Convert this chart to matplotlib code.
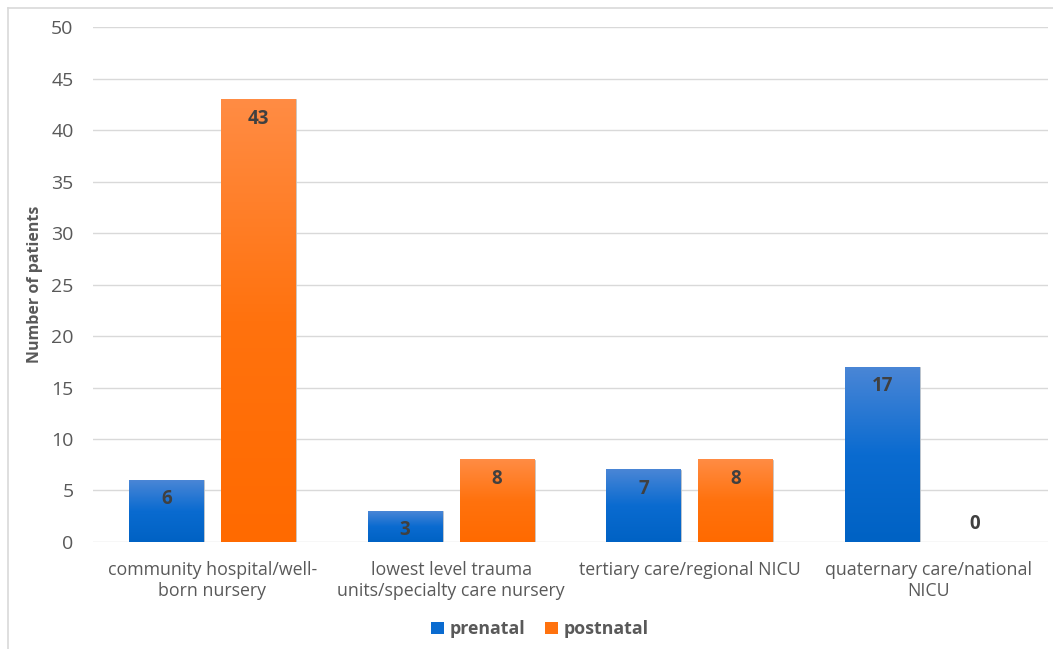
import numpy as np
import matplotlib.pyplot as plt
from matplotlib.colors import LinearSegmentedColormap
from matplotlib.patches import Patch
from matplotlib.lines import Line2D

# data
categories = [
    "community hospital/well-\nborn nursery",
    "lowest level trauma\nunits/specialty care nursery",
    "tertiary care/regional NICU",
    "quaternary care/national\nNICU",
]
prenatal = [6, 3, 7, 17]
postnatal = [43, 8, 8, 0]
series_names = ["prenatal", "postnatal"]

plt.rcParams["font.family"] = ["Open Sans", "DejaVu Sans"]
text_gray = "#595959"

blue_cmap = LinearSegmentedColormap.from_list("b", ["#4a86d6", "#0a6bd0", "#0062c4"])
orange_cmap = LinearSegmentedColormap.from_list("o", ["#ff8c44", "#ff720e", "#ff6a00"])

fig = plt.figure(figsize=(10.53, 6.49), dpi=100)
ax = fig.add_axes([0.0883, 0.165, 0.907, 0.793])

x = np.arange(len(categories))
w = 0.314
off = 0.1925

bars_pre = ax.bar(x - off, prenatal, w, color="#0a6bd0", zorder=2)
bars_post = ax.bar(x + off, postnatal, w, color="#ff720e", zorder=2)

# gradient fill on each bar (light at top, darker at bottom)
grad = np.linspace(0, 1, 256).reshape(-1, 1)
for bars, cmap in [(bars_pre, blue_cmap), (bars_post, orange_cmap)]:
    for b in bars:
        h = b.get_height()
        if h <= 0:
            continue
        ax.imshow(grad, cmap=cmap, aspect="auto", zorder=3,
                  extent=[b.get_x(), b.get_x() + b.get_width(), 0, h],
                  origin="upper", interpolation="bilinear")
        b.set_edgecolor("#c8c8c8")
        b.set_linewidth(0.6)

# value labels
for bars in (bars_pre, bars_post):
    for b in bars:
        h = b.get_height()
        cx = b.get_x() + b.get_width() / 2
        if h >= 2:
            ax.text(cx, h - 0.9, f"{int(h)}", ha="center", va="top",
                    fontsize=13.5, fontweight="bold", color="#404040", zorder=5)
        else:
            ax.text(cx, h + 0.8, f"{int(h)}", ha="center", va="bottom",
                    fontsize=13.5, fontweight="bold", color="#404040", zorder=5)

ax.set_xlim(-0.5, len(categories) - 0.5)
ax.set_ylim(0, 50)
ax.set_yticks(np.arange(0, 51, 5))
ax.yaxis.grid(True, color="#d9d9d9", linewidth=1.0, zorder=0)
ax.set_axisbelow(True)
for s in ax.spines.values():
    s.set_visible(False)
ax.tick_params(axis="both", length=0, colors=text_gray)
ax.tick_params(axis="y", pad=14, labelsize=14)
ax.tick_params(axis="x", pad=14)
ax.set_xticks(x)
ax.set_xticklabels(categories, fontsize=12.8, color=text_gray, linespacing=1.2)
ax.set_ylabel("Number of patients", fontsize=11.5, fontweight="bold", color=text_gray, labelpad=6)

handles = [Patch(facecolor="#0a6bd0"), Patch(facecolor="#ff720e")]
leg = fig.legend(handles, series_names, loc="lower center", bbox_to_anchor=(0.513, -0.008),
                 ncol=2, frameon=False, handlelength=0.7, handleheight=0.7,
                 handletextpad=0.35, columnspacing=1.1,
                 prop={"weight": "bold", "size": 12.8})
for t in leg.get_texts():
    t.set_color(text_gray)

# thin outer frame lines (left and top)
fig.add_artist(Line2D([0.0078, 0.0078], [0, 0.988], transform=fig.transFigure, color="#d9d9d9", lw=1.2))
fig.add_artist(Line2D([0.0078, 1.0], [0.988, 0.988], transform=fig.transFigure, color="#d9d9d9", lw=1.2))

fig.savefig("out.png", dpi=100, facecolor="white")
